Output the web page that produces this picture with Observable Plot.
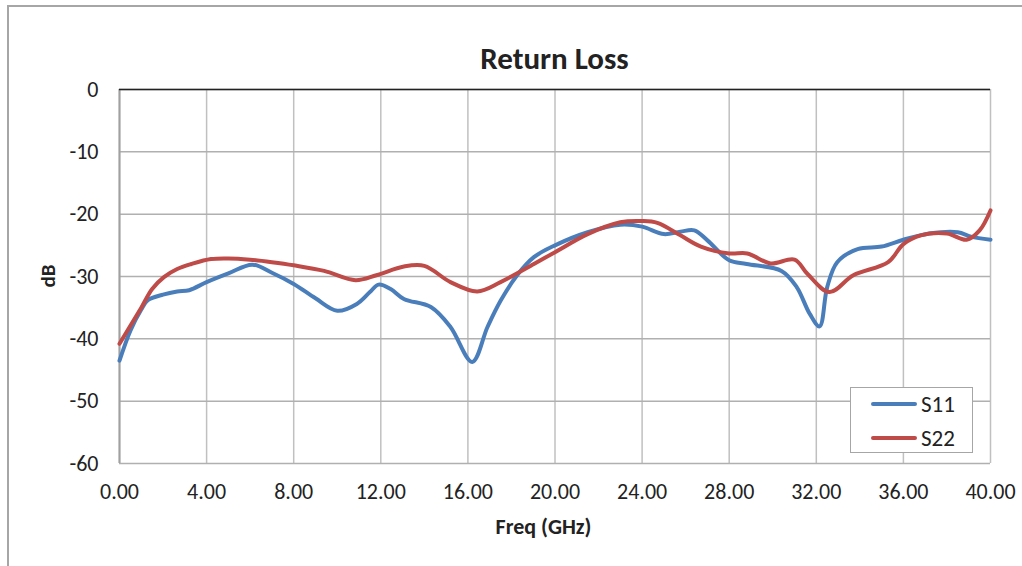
<!DOCTYPE html>
<html>
<head>
<meta charset="utf-8">
<script src="https://cdn.jsdelivr.net/npm/d3@7"></script>
<script src="https://cdn.jsdelivr.net/npm/@observablehq/plot@0.6"></script>
<style>
  html, body { margin: 0; padding: 0; background: #fff; }
  #wrap { position: relative; width: 1022px; height: 566px; overflow: hidden; font-family: Carlito, Lato, "Open Sans", sans-serif; }
  #border { position: absolute; left: 7px; top: 5px; width: 1030px; height: 600px; border: 2px solid #a6a6a6; box-sizing: border-box; }
  #chart { position: absolute; left: 0; top: 0; }
  #title { position: absolute; left: 0; width: 1109px; top: 38px; text-align: center; font-weight: bold; font-size: 31px; line-height: 40px; color: #222; }
  #xlabel { position: absolute; left: 0; width: 1087px; top: 513px; text-align: center; font-weight: bold; font-size: 22px; line-height: 28px; color: #222; }
  #ylabel { position: absolute; left: 48px; top: 276px; transform: translate(-50%, -50%) rotate(-90deg); font-weight: bold; font-size: 21px; color: #222; }
  #legend { position: absolute; left: 850px; top: 387px; width: 123px; height: 66px; border: 1.5px solid #a6a6a6; box-sizing: border-box; background: #fff; }
  .li { position: absolute; left: 20px; height: 24px; display: flex; align-items: center; font-size: 23px; color: #222; }
  .sw { width: 46px; height: 4px; border-radius: 2px; margin-right: 4px; }
</style>
</head>
<body>
<div id="wrap">
  <div id="border"></div>
  <div id="chart"></div>
  <div id="title">Return Loss</div>
  <div id="xlabel">Freq (GHz)</div>
  <div id="ylabel">dB</div>
  <div id="legend"></div>
</div>
<script>
const seriesNames = ["S11", "S22"];
const seriesColors = ["#4a7ebb", "#be4b48"];
const xTicks = [0, 4, 8, 12, 16, 20, 24, 28, 32, 36, 40];
const yTicks = [0, -10, -20, -30, -40, -50, -60];

const s11Freq = [0, 0.5, 1.0, 1.3, 2.0, 2.65, 3.2, 4, 5, 6.1, 7, 8, 9, 10, 10.9, 11.5, 11.9, 12.45, 13.06, 14.3, 15.2, 16.2, 16.9, 17.5, 18.26, 19.03, 20, 21.5, 23, 24, 25, 25.76, 26.4, 27, 28, 28.8, 30.4, 31.1, 31.7, 32.15, 32.5, 32.96, 33.9, 35, 36, 37.2, 38.5, 39.1, 40];
const s11dB = [-43.5, -38.7, -35.3, -33.8, -32.9, -32.4, -32.2, -30.9, -29.5, -28.1, -29.4, -31.2, -33.5, -35.5, -34.4, -32.5, -31.3, -32.0, -33.6, -34.9, -38.1, -43.7, -38.1, -33.9, -29.8, -26.9, -25.0, -22.9, -21.7, -22.0, -23.2, -22.8, -22.6, -24.2, -27.4, -28.0, -29.1, -31.7, -36.0, -38.0, -31.7, -27.7, -25.6, -25.2, -24.1, -23.1, -22.9, -23.6, -24.1];

const s22Freq = [0, 1, 1.5, 2.04, 2.65, 3.3, 4.2, 5, 6, 7, 8, 9.4, 10.84, 11.8, 13.06, 14, 15.2, 16.43, 17.5, 19.03, 20, 21.5, 23, 24, 24.7, 25.76, 26.7, 28, 28.83, 29.9, 31, 31.6, 32.6, 33.7, 35.3, 36, 36.8, 38, 38.9, 39.5, 40];
const s22dB = [-40.8, -35.0, -32.0, -30.1, -28.8, -28.0, -27.2, -27.1, -27.3, -27.7, -28.2, -29.1, -30.6, -29.8, -28.4, -28.3, -30.9, -32.4, -30.9, -28.0, -26.1, -23.2, -21.3, -21.1, -21.4, -23.4, -25.2, -26.3, -26.3, -27.9, -27.3, -29.6, -32.5, -29.8, -27.7, -24.8, -23.4, -23.1, -24.1, -22.6, -19.4];

const data = [
  ...s11Freq.map((f, i) => ({series: "S11", freq: f, db: s11dB[i]})),
  ...s22Freq.map((f, i) => ({series: "S22", freq: f, db: s22dB[i]}))
];

const font = "Carlito, Lato, 'Open Sans', sans-serif";
const chart = Plot.plot({
  width: 1022,
  height: 566,
  marginLeft: 119,
  marginRight: 32,
  marginTop: 89,
  marginBottom: 103,
  style: {fontFamily: font, fontSize: "22px", color: "#222", background: "transparent"},
  x: {domain: [0, 40]},
  y: {domain: [-60, 0]},
  color: {domain: seriesNames, range: seriesColors},
  marks: [
    Plot.gridX(xTicks, {stroke: "#c0c0c0", strokeOpacity: 1, strokeWidth: 1.5}),
    Plot.gridY(yTicks, {stroke: "#b0b0b0", strokeOpacity: 1, strokeWidth: 1.5}),
    Plot.ruleX([0], {stroke: "#a0a0a0", strokeWidth: 2}),
    Plot.ruleY([0], {stroke: "#222", strokeWidth: 1.5}),
    Plot.axisX(xTicks, {tickSize: 0, tickPadding: 20, tickFormat: d => d.toFixed(2), label: null, fontSize: 22}),
    Plot.axisY(yTicks, {tickSize: 0, tickPadding: 21, tickFormat: d => String(d), label: null, fontSize: 22}),
    Plot.line(data, {x: "freq", y: "db", z: "series", stroke: "series", strokeWidth: 4, curve: "catmull-rom"})
  ]
});
document.getElementById("chart").appendChild(chart);

const legend = document.getElementById("legend");
seriesNames.forEach((name, i) => {
  const item = document.createElement("div");
  item.className = "li";
  item.style.top = (4 + i * 34) + "px";
  const sw = document.createElement("div");
  sw.className = "sw";
  sw.style.background = seriesColors[i];
  item.appendChild(sw);
  item.appendChild(document.createTextNode(name));
  legend.appendChild(item);
});
</script>
</body>
</html>
